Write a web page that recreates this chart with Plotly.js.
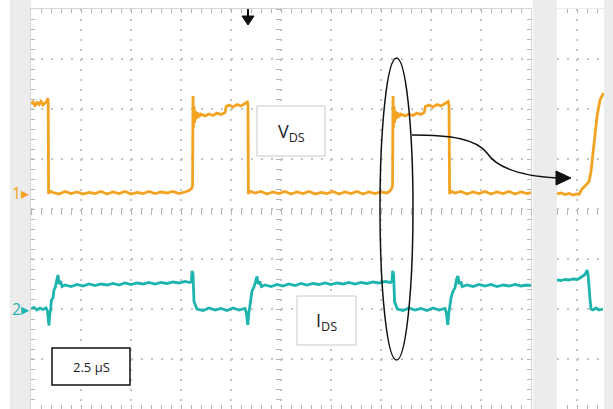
<!DOCTYPE html>
<html><head><meta charset="utf-8">
<script src="https://cdn.plot.ly/plotly-3.0.1.min.js"></script>
<style>html,body{margin:0;padding:0;background:#fff}#chart{width:613px;height:409px}</style>
</head><body><div id="chart"></div>
<script>
// Channel 1 (V_DS), main window: [time µs, divisions]
const ch1Main = [[0.00,2.10],[0.10,2.14],[0.20,2.07],[0.30,2.13],[0.40,2.09],[0.50,2.15],[0.60,2.08],[0.70,2.12],[0.80,2.16],[0.84,2.22],[0.86,2.12],[0.88,0.30],[0.92,0.36],[1.10,0.33],[1.40,0.30],[1.70,0.35],[2.00,0.31],[2.30,0.34],[2.60,0.30],[2.90,0.33],[3.20,0.31],[3.50,0.35],[3.80,0.30],[4.10,0.34],[4.40,0.31],[4.70,0.35],[5.00,0.30],[5.30,0.33],[5.60,0.31],[5.90,0.35],[6.20,0.31],[6.50,0.34],[6.80,0.32],[7.10,0.35],[7.40,0.31],[7.70,0.34],[7.90,0.37],[8.02,0.41],[8.08,0.46],[8.10,2.26],[8.12,1.62],[8.15,2.06],[8.18,1.72],[8.22,1.96],[8.27,1.80],[8.33,1.93],[8.40,1.84],[8.50,1.90],[8.70,1.86],[8.90,1.90],[9.10,1.87],[9.30,1.92],[9.50,1.89],[9.70,1.93],[9.76,2.05],[9.90,2.08],[10.10,2.04],[10.30,2.09],[10.50,2.06],[10.70,2.11],[10.82,2.14],[10.85,2.07],[10.87,0.30],[10.92,0.36],[11.20,0.32],[11.50,0.35],[11.80,0.30],[12.10,0.34],[12.40,0.31],[12.70,0.35],[13.00,0.30],[13.30,0.34],[13.60,0.31],[13.90,0.35],[14.20,0.30],[14.50,0.33],[14.80,0.31],[15.10,0.35],[15.40,0.30],[15.70,0.34],[16.00,0.31],[16.30,0.35],[16.60,0.30],[16.90,0.34],[17.20,0.31],[17.50,0.34],[17.80,0.32],[17.95,0.36],[18.04,0.42],[18.08,0.48],[18.10,2.26],[18.12,1.62],[18.15,2.06],[18.18,1.72],[18.22,1.96],[18.27,1.80],[18.33,1.93],[18.40,1.84],[18.50,1.90],[18.70,1.86],[18.90,1.90],[19.10,1.87],[19.30,1.92],[19.50,1.89],[19.66,1.93],[19.72,2.05],[19.90,2.08],[20.10,2.04],[20.30,2.09],[20.50,2.06],[20.70,2.11],[20.86,2.15],[20.90,2.07],[20.93,0.30],[20.98,0.36],[21.20,0.32],[21.50,0.35],[21.80,0.30],[22.10,0.34],[22.40,0.31],[22.70,0.35],[23.00,0.30],[23.30,0.34],[23.60,0.31],[23.90,0.35],[24.20,0.30],[24.50,0.34],[24.80,0.31],[25.00,0.33]];
// Channel 2 (I_DS), main window
const ch2Main = [[0.00,-2.00],[0.15,-1.97],[0.30,-2.02],[0.45,-1.98],[0.60,-2.01],[0.75,-1.98],[0.82,-2.04],[0.86,-2.30],[0.90,-2.33],[0.94,-2.10],[0.98,-2.02],[1.02,-1.82],[1.10,-1.78],[1.15,-1.62],[1.22,-1.56],[1.30,-1.40],[1.35,-1.32],[1.40,-1.50],[1.48,-1.44],[1.55,-1.55],[1.70,-1.52],[2.00,-1.55],[2.30,-1.51],[2.60,-1.54],[2.90,-1.50],[3.20,-1.53],[3.50,-1.50],[3.80,-1.52],[4.10,-1.49],[4.40,-1.52],[4.70,-1.48],[5.00,-1.51],[5.30,-1.48],[5.60,-1.50],[5.90,-1.47],[6.20,-1.50],[6.50,-1.47],[6.80,-1.49],[7.10,-1.46],[7.40,-1.48],[7.70,-1.45],[7.95,-1.47],[8.02,-1.45],[8.05,-1.24],[8.10,-1.30],[8.15,-1.85],[8.22,-1.92],[8.30,-2.00],[8.60,-2.03],[8.90,-1.98],[9.20,-2.02],[9.50,-1.99],[9.80,-2.03],[10.10,-1.98],[10.40,-2.02],[10.70,-1.99],[10.76,-2.06],[10.80,-2.30],[10.84,-2.32],[10.88,-2.12],[10.92,-1.98],[11.00,-1.80],[11.05,-1.64],[11.15,-1.56],[11.25,-1.40],[11.30,-1.35],[11.36,-1.50],[11.44,-1.45],[11.52,-1.55],[11.70,-1.52],[12.00,-1.55],[12.30,-1.51],[12.60,-1.54],[12.90,-1.50],[13.20,-1.53],[13.50,-1.49],[13.80,-1.52],[14.10,-1.49],[14.40,-1.51],[14.70,-1.48],[15.00,-1.51],[15.30,-1.48],[15.60,-1.50],[15.90,-1.47],[16.20,-1.50],[16.50,-1.47],[16.80,-1.49],[17.10,-1.46],[17.40,-1.48],[17.70,-1.45],[17.98,-1.47],[18.05,-1.45],[18.08,-1.24],[18.13,-1.30],[18.18,-1.86],[18.25,-1.93],[18.32,-2.00],[18.60,-2.03],[18.90,-1.98],[19.20,-2.02],[19.50,-1.99],[19.80,-2.03],[20.10,-1.98],[20.40,-2.02],[20.70,-1.99],[20.76,-2.06],[20.80,-2.30],[20.84,-2.32],[20.88,-2.12],[20.92,-1.98],[21.00,-1.78],[21.10,-1.64],[21.20,-1.58],[21.28,-1.40],[21.35,-1.34],[21.40,-1.50],[21.48,-1.45],[21.56,-1.55],[21.80,-1.52],[22.10,-1.55],[22.40,-1.51],[22.70,-1.54],[23.00,-1.51],[23.30,-1.55],[23.60,-1.52],[23.90,-1.54],[24.20,-1.51],[24.50,-1.54],[24.80,-1.52],[25.00,-1.53]];
// Zoomed side window
const ch1Zoom = [[-1.00,0.30],[-0.80,0.32],[-0.60,0.29],[-0.40,0.31],[-0.20,0.28],[0.00,0.30],[0.10,0.29],[0.25,0.40],[0.45,0.48],[0.60,0.55],[0.70,0.75],[0.85,1.30],[1.00,1.85],[1.15,2.18],[1.25,2.25],[1.33,2.32]];
const ch2Zoom = [[-1.00,-1.42],[-0.80,-1.43],[-0.60,-1.41],[-0.40,-1.42],[-0.20,-1.40],[0.00,-1.41],[0.15,-1.38],[0.30,-1.33],[0.40,-1.31],[0.50,-1.22],[0.55,-1.30],[0.65,-1.80],[0.70,-2.00],[0.80,-2.02],[0.95,-1.98],[1.10,-2.02],[1.30,-2.00]];
const labels = {vds: 'V<sub>DS</sub>', ids: 'I<sub>DS</sub>', timebase: '2.5 µS', ch1: '1▸', ch2: '2▸'};

const ORANGE = '#F3A321', CYAN = '#1DB4AD';
const W = 613, H = 409, L = 31, T = 9, R = 9, B = 0;
const PW = W - L - R, PH = H - T - B;
const px = x => (x - L) / PW;
const py = y => (H - B - y) / PH;
const pathOf = (cmds) => cmds.map(c => c[0] + (c.length > 1 ? ' ' + c.slice(1).reduce((a, v, i) => a.concat(i % 2 ? [py(v).toFixed(4)] : [px(v).toFixed(4)]), []).join(',') : '')).join(' ');

function tr(pairs, color, xa) {
  return {x: pairs.map(p => p[0]), y: pairs.map(p => p[1]), type: 'scatter', mode: 'lines',
    xaxis: xa, yaxis: 'y', line: {color: color, width: 2.8}, hoverinfo: 'skip', showlegend: false};
}
const dummy = (xa, ya) => ({x: [], y: [], type: 'scatter', mode: 'lines', xaxis: xa, yaxis: ya, showlegend: false});

const data = [
  tr(ch1Main, ORANGE, 'x'), tr(ch2Main, CYAN, 'x'),
  tr(ch1Zoom, ORANGE, 'x2'), tr(ch2Zoom, CYAN, 'x2'),
  dummy('x3', 'y'), dummy('x4', 'y'), dummy('x', 'y3')
];

const GRID = '#c4c4c4', TICK = '#b5b5b5', DOT = '2px,8px';
const baseX = {showticklabels: false, zeroline: false, showgrid: true, gridcolor: GRID, griddash: DOT, gridwidth: 1.5,
  showline: true, linecolor: '#d4d4d4', linewidth: 1, mirror: 'ticks', ticks: 'inside', ticklen: 4, tickcolor: TICK, tickwidth: 1,
  fixedrange: true};
const layout = {
  width: W, height: H, margin: {l: L, r: R, t: T, b: B, pad: 0},
  paper_bgcolor: '#ffffff', plot_bgcolor: '#ffffff', showlegend: false, hovermode: false,
  font: {family: 'Open Sans, Noto Sans, sans-serif', color: '#222'},
  xaxis: Object.assign({}, baseX, {domain: [0, 500 / PW], range: [0, 25], tick0: 0, dtick: 2.5, anchor: 'y',
    minor: {dtick: 0.5, ticklen: 4, tickcolor: TICK, ticks: 'inside', showgrid: false}}),
  xaxis2: Object.assign({}, baseX, {domain: [526 / PW, 1], range: [-1, 1.35], tick0: 0, dtick: 2.5, anchor: 'y', linecolor: '#ececec',
    minor: {dtick: 0.5, tick0: 0, ticklen: 4, tickcolor: TICK, ticks: 'inside', showgrid: false}}),
  yaxis: Object.assign({}, baseX, {domain: [0, 1], range: [-4, 4], tick0: 0, dtick: 1, anchor: 'x',
    minor: {dtick: 0.2, ticklen: 4, tickcolor: TICK, ticks: 'inside', showgrid: false}}),
  xaxis3: {overlaying: 'x', anchor: 'free', position: 0.5, range: [0, 25], tick0: 0, dtick: 0.5, ticks: 'outside', ticklen: 5,
    tickcolor: TICK, showticklabels: false, showgrid: false, showline: false, zeroline: false},
  xaxis4: {overlaying: 'x2', anchor: 'free', position: 0.5, range: [-1, 1.35], tick0: 0, dtick: 0.5, ticks: 'outside', ticklen: 5,
    tickcolor: TICK, showticklabels: false, showgrid: false, showline: false, zeroline: false},
  yaxis3: {overlaying: 'y', anchor: 'free', position: 250 / PW, side: 'left', range: [-4, 4], tick0: 0, dtick: 0.2, ticks: 'outside', ticklen: 5,
    tickcolor: TICK, showticklabels: false, showgrid: false, showline: false, zeroline: false},
  shapes: [
    {type: 'rect', xref: 'paper', yref: 'paper', x0: px(10), x1: px(31), y0: py(409), y1: py(0), fillcolor: '#ececec', line: {width: 0}, layer: 'below'},
    {type: 'rect', xref: 'paper', yref: 'paper', x0: px(533), x1: px(557), y0: py(409), y1: py(0), fillcolor: '#ececec', line: {width: 0}, layer: 'below'},
    {type: 'rect', xref: 'paper', yref: 'paper', x0: px(604), x1: px(613), y0: py(409), y1: py(0), fillcolor: '#ececec', line: {width: 0}, layer: 'below'},
    {type: 'rect', xref: 'paper', yref: 'paper', x0: px(257), x1: px(325), y0: py(156), y1: py(106), fillcolor: '#ffffff', line: {color: '#c9c9c9', width: 1}},
    {type: 'rect', xref: 'paper', yref: 'paper', x0: px(297), x1: px(356), y0: py(345), y1: py(296), fillcolor: '#ffffff', line: {color: '#c9c9c9', width: 1}},
    {type: 'rect', xref: 'paper', yref: 'paper', x0: px(52), x1: px(130), y0: py(385), y1: py(348), fillcolor: '#ffffff', line: {color: '#111', width: 1.5}},
    {type: 'circle', xref: 'paper', yref: 'paper', x0: px(380), x1: px(413), y0: py(360), y1: py(58), line: {color: '#111', width: 1.5}},
    {type: 'path', xref: 'paper', yref: 'paper', line: {color: '#111', width: 1.5},
      path: pathOf([['M', 412, 135], ['C', 452, 135, 476, 139, 487, 153], ['C', 497, 168, 520, 176, 557, 178]])},
    {type: 'path', xref: 'paper', yref: 'paper', line: {color: '#111', width: 1}, fillcolor: '#111',
      path: pathOf([['M', 556, 171], ['L', 571, 178], ['L', 556, 185], ['Z']])},
    {type: 'path', xref: 'paper', yref: 'paper', line: {color: '#111', width: 2},
      path: pathOf([['M', 248, 9], ['L', 248, 18]])},
    {type: 'path', xref: 'paper', yref: 'paper', line: {color: '#111', width: 1}, fillcolor: '#111',
      path: pathOf([['M', 242, 16], ['L', 254, 16], ['L', 248, 25], ['Z']])}
  ],
  annotations: [
    {xref: 'paper', yref: 'paper', x: px(291), y: py(132), text: labels.vds, showarrow: false, font: {size: 18, color: '#222'}, xanchor: 'center', yanchor: 'middle'},
    {xref: 'paper', yref: 'paper', x: px(326), y: py(321), text: labels.ids, showarrow: false, font: {size: 18, color: '#222'}, xanchor: 'center', yanchor: 'middle'},
    {xref: 'paper', yref: 'paper', x: px(91), y: py(367), text: labels.timebase, showarrow: false, font: {size: 13, color: '#222'}, xanchor: 'center', yanchor: 'middle'},
    {xref: 'paper', yref: 'y', x: px(20), y: 0.32, text: labels.ch1, showarrow: false, font: {size: 16, color: ORANGE}, xanchor: 'center', yanchor: 'middle'},
    {xref: 'paper', yref: 'y', x: px(20), y: -2.0, text: labels.ch2, showarrow: false, font: {size: 16, color: CYAN}, xanchor: 'center', yanchor: 'middle'}
  ]
};
Plotly.newPlot('chart', data, layout, {staticPlot: true, displayModeBar: false});
</script></body></html>
